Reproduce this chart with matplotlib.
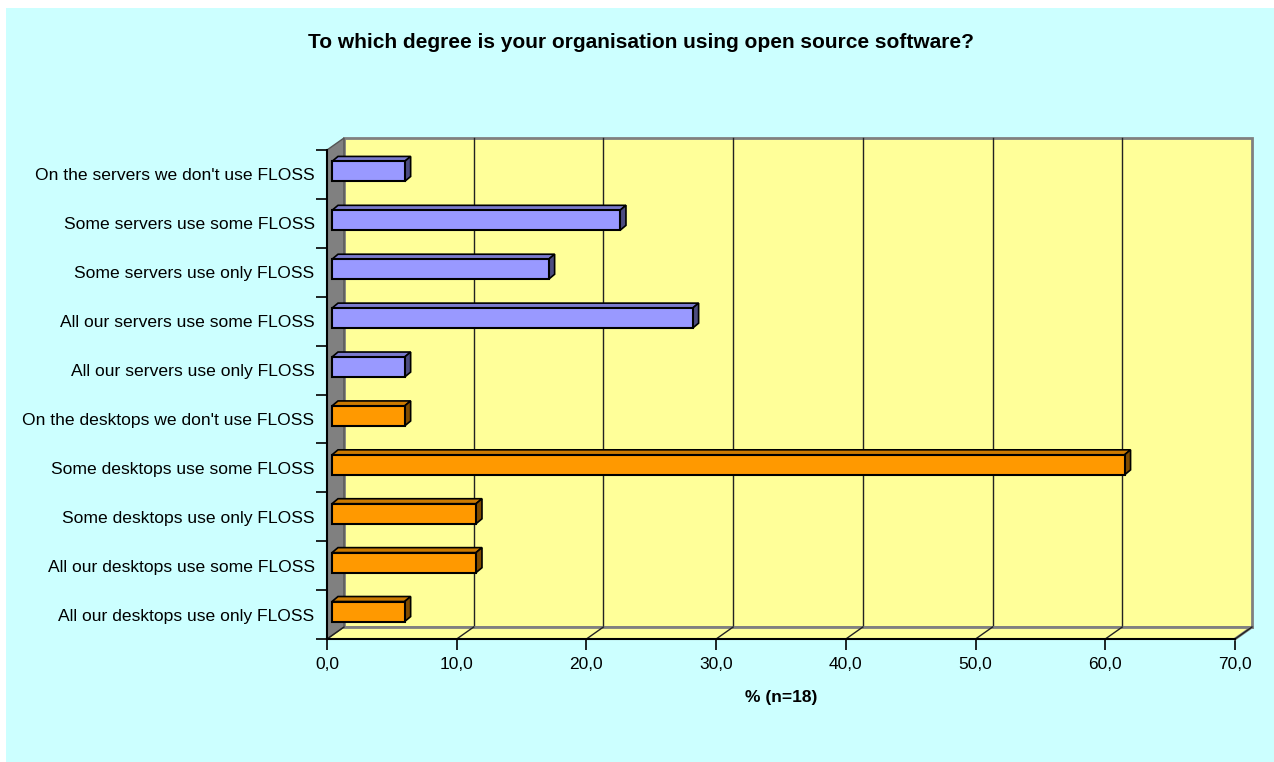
import numpy as np
import matplotlib
matplotlib.use("Agg")
from matplotlib import pyplot as plt
from matplotlib.patches import Polygon, Rectangle
from matplotlib import transforms

plt.rcParams['font.family'] = ['Liberation Sans', 'DejaVu Sans']

# data, top to bottom as shown in the chart
categories = [
    "On the servers we don't use FLOSS",
    "Some servers use some FLOSS",
    "Some servers use only FLOSS",
    "All our servers use some FLOSS",
    "All our servers use only FLOSS",
    "On the desktops we don't use FLOSS",
    "Some desktops use some FLOSS",
    "Some desktops use only FLOSS",
    "All our desktops use some FLOSS",
    "All our desktops use only FLOSS",
]
percent = [5.6, 22.2, 16.7, 27.8, 5.6, 5.6, 61.1, 11.1, 11.1, 5.6]
group = ["server"] * 5 + ["desktop"] * 5
x_ticks = [0, 10, 20, 30, 40, 50, 60, 70]

face_colors = {"server": "#9999FF", "desktop": "#FF9900"}
top_colors = {"server": "#7A7ACC", "desktop": "#CC7A00"}
side_colors = {"server": "#4C4C80", "desktop": "#804C00"}

W, H = 1274, 762
fig = plt.figure(figsize=(W / 100, H / 100), dpi=100)
fig.patch.set_facecolor("white")
fig.patches.append(Rectangle((6 / W, 0), 1, 1 - 8 / H, transform=fig.transFigure,
                             facecolor="#CCFFFF", edgecolor="none", zorder=-10))

# front plane of the 3d box
left, right, bottom, top = 327, 1235, 639, 150
ax = fig.add_axes([left / W, 1 - bottom / H, (right - left) / W, (bottom - top) / H])
ax.set_xlim(0, 70)
ax.set_ylim(0, len(categories))
ax.patch.set_visible(False)
for s in ax.spines.values():
    s.set_visible(False)

# depth offsets in pixels
DX, DY = 17, 12
back = transforms.offset_copy(ax.transData, fig=fig, x=DX, y=DY, units="dots")
n = len(categories)

def disp(x, y, dx=0, dy=0):
    p = ax.transData.transform((x, y))
    return (p[0] + dx, p[1] + dy)

ident = transforms.IdentityTransform()

# back wall
ax.add_patch(Rectangle((0, 0), 70, n, transform=back, facecolor="#FFFF99",
                       edgecolor="#808080", lw=2, zorder=1, clip_on=False))
for t in x_ticks[1:-1]:
    ax.plot([t, t], [0, n], color="#222222", lw=1, transform=back, zorder=2, clip_on=False)

# floor
floor = [disp(0, 0), disp(70, 0), disp(70, 0, DX, DY), disp(0, 0, DX, DY)]
ax.add_patch(Polygon(floor, closed=True, transform=ident, facecolor="#FFFF99",
                     edgecolor="none", zorder=1, clip_on=False))
ax.plot([p[0] for p in floor[1:3]], [p[1] for p in floor[1:3]], color="#808080", lw=2,
        transform=ident, zorder=2, clip_on=False)
ax.plot([disp(0, 0, DX, DY)[0], disp(70, 0, DX, DY)[0]],
        [disp(0, 0, DX, DY)[1]] * 2, color="#808080", lw=2, transform=ident, zorder=2, clip_on=False)
for t in x_ticks:
    a, b = disp(t, 0), disp(t, 0, DX, DY)
    ax.plot([a[0], b[0]], [a[1], b[1]], color="#222222", lw=1, transform=ident, zorder=2, clip_on=False)

# left wall
wall = [disp(0, 0), disp(0, n), disp(0, n, DX, DY), disp(0, 0, DX, DY)]
ax.add_patch(Polygon(wall, closed=True, transform=ident, facecolor="#808080",
                     edgecolor="#555555", lw=1, zorder=1, clip_on=False))

# bars
BX, BY = 5, 3      # bar front offset into depth
DDX, DDY = 6, 5    # bar depth
bh = 0.41
for i, (v, g) in enumerate(zip(percent, group)):
    yc = n - 1 - i + 0.5
    y0, y1 = yc - bh / 2, yc + bh / 2
    fl = disp(0, y0, BX, BY)
    fr = disp(v, y0, BX, BY)
    tr = disp(v, y1, BX, BY)
    tl = disp(0, y1, BX, BY)
    top_face = [tl, tr, (tr[0] + DDX, tr[1] + DDY), (tl[0] + DDX, tl[1] + DDY)]
    side_face = [fr, (fr[0] + DDX, fr[1] + DDY), (tr[0] + DDX, tr[1] + DDY), tr]
    ax.add_patch(Polygon(top_face, closed=True, transform=ident, facecolor=top_colors[g],
                         edgecolor="black", lw=1.2, zorder=5, clip_on=False))
    ax.add_patch(Polygon(side_face, closed=True, transform=ident, facecolor=side_colors[g],
                         edgecolor="black", lw=1.2, zorder=5, clip_on=False))
    ax.add_patch(Polygon([fl, fr, tr, tl], closed=True, transform=ident, facecolor=face_colors[g],
                         edgecolor="black", lw=1.5, zorder=6, clip_on=False))

# axes lines
ax.plot([0, 70], [0, 0], color="black", lw=1.5, zorder=3, clip_on=False)
ax.plot([0, 0], [0, n], color="black", lw=1.5, zorder=3, clip_on=False)

ax.set_xticks(x_ticks)
ax.set_xticklabels([f"{t:.1f}".replace(".", ",") for t in x_ticks], fontsize=12.5)
ax.set_yticks(np.arange(n) + 0.5)
ax.set_yticklabels(categories[::-1], fontsize=12.6)
ax.set_yticks(np.arange(n + 1), minor=True)
ax.tick_params(axis="y", which="major", length=0, pad=9)
ax.tick_params(axis="y", which="minor", length=8, width=1.2, color="black")
ax.tick_params(axis="x", length=8, width=1.2, color="black", pad=5)
ax.set_xlabel("% (n=18)", fontsize=12.5, fontweight="bold", labelpad=13)

fig.text(641 / W, 1 - 42 / H, "To which degree is your organisation using open source software?",
         ha="center", va="center", fontsize=15, fontweight="bold")

fig.savefig("out.png", dpi=100)
